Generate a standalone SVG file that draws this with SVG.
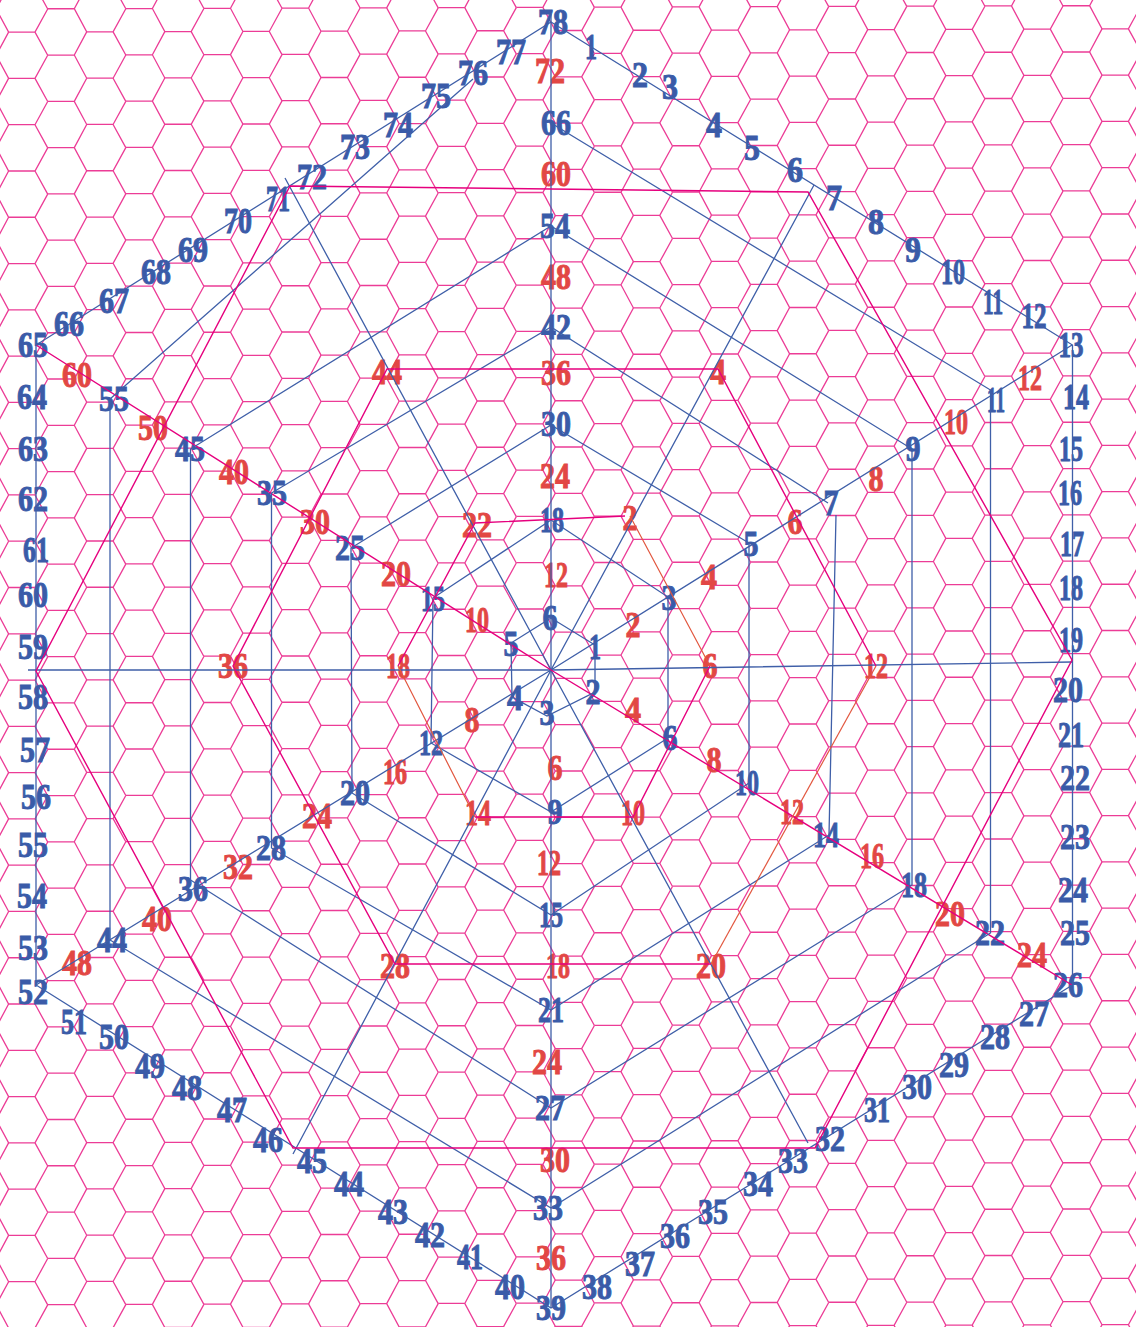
<svg xmlns="http://www.w3.org/2000/svg" width="1136" height="1327" viewBox="0 0 1136 1327">
<style>
.hex{fill:none;stroke:#ec3c96;stroke-width:1.3}
.b{fill:none;stroke:#3f5fa8;stroke-width:1.3}
.m{fill:none;stroke:#e6007e;stroke-width:1.4}
.o{fill:none;stroke:#e2573f;stroke-width:1.2}
text{font-family:"Liberation Serif","Times New Roman",serif;font-weight:700;font-size:36px;text-anchor:middle;stroke-width:1;paint-order:stroke}
.lb text{fill:#3a5ba8;stroke:#3a5ba8}
.lr text{fill:#e24744;stroke:#e24744}
</style>
<defs>
<path id="t" class="hex" d="M0 0H26.6L39 23.14H65.4L78.1 0M26.6 0L39-23.14M65.4 23.14L78.1 46.28"/>
<g id="r">
<use href="#t" x="-30.4" y="0"/><use href="#t" x="47.7" y="-.23"/><use href="#t" x="125.8" y="-.47"/><use href="#t" x="203.9" y="-.7"/><use href="#t" x="282" y="-.94"/><use href="#t" x="360.1" y="-1.17"/><use href="#t" x="438.2" y="-1.4"/><use href="#t" x="516.3" y="-1.64"/><use href="#t" x="594.4" y="-1.87"/><use href="#t" x="672.5" y="-2.1"/><use href="#t" x="750.6" y="-2.34"/><use href="#t" x="828.7" y="-2.57"/><use href="#t" x="906.8" y="-2.8"/><use href="#t" x="984.9" y="-3.04"/><use href="#t" x="1063" y="-3.27"/>
</g>
</defs>
<rect width="1136" height="1327" fill="#fff"/>
<g id="hex-grid">
<use href="#r" y="-37.28"/><use href="#r" y="9"/><use href="#r" y="55.28"/><use href="#r" y="101.56"/><use href="#r" y="147.84"/><use href="#r" y="194.12"/><use href="#r" y="240.4"/><use href="#r" y="286.68"/><use href="#r" y="332.96"/><use href="#r" y="379.24"/><use href="#r" y="425.52"/><use href="#r" y="471.8"/><use href="#r" y="518.08"/><use href="#r" y="564.36"/><use href="#r" y="610.64"/><use href="#r" y="656.92"/><use href="#r" y="703.2"/><use href="#r" y="749.48"/><use href="#r" y="795.76"/><use href="#r" y="842.04"/><use href="#r" y="888.32"/><use href="#r" y="934.6"/><use href="#r" y="980.88"/><use href="#r" y="1027.16"/><use href="#r" y="1073.44"/><use href="#r" y="1119.72"/><use href="#r" y="1166"/><use href="#r" y="1212.28"/><use href="#r" y="1258.56"/><use href="#r" y="1304.84"/><use href="#r" y="1351.12"/>
</g>
<g id="outer-labels" class="lb">
<text x="591" y="59" textLength="12" lengthAdjust="spacingAndGlyphs">1</text><text x="640" y="87" textLength="16" lengthAdjust="spacingAndGlyphs">2</text><text x="670" y="99" textLength="16" lengthAdjust="spacingAndGlyphs">3</text><text x="714" y="137" textLength="16" lengthAdjust="spacingAndGlyphs">4</text><text x="752" y="160" textLength="16" lengthAdjust="spacingAndGlyphs">5</text><text x="795" y="182" textLength="16" lengthAdjust="spacingAndGlyphs">6</text><text x="834" y="210" textLength="16" lengthAdjust="spacingAndGlyphs">7</text><text x="876" y="234" textLength="16" lengthAdjust="spacingAndGlyphs">8</text><text x="913" y="262" textLength="16" lengthAdjust="spacingAndGlyphs">9</text>
<text x="953" y="284" textLength="24" lengthAdjust="spacingAndGlyphs">10</text><text x="993" y="314" textLength="20" lengthAdjust="spacingAndGlyphs">11</text><text x="1034" y="328" textLength="25" lengthAdjust="spacingAndGlyphs">12</text><text x="1071" y="357" textLength="25" lengthAdjust="spacingAndGlyphs">13</text><text x="1076" y="409" textLength="26" lengthAdjust="spacingAndGlyphs">14</text><text x="1071" y="461" textLength="24" lengthAdjust="spacingAndGlyphs">15</text><text x="1070" y="505" textLength="24" lengthAdjust="spacingAndGlyphs">16</text><text x="1072" y="556" textLength="24" lengthAdjust="spacingAndGlyphs">17</text><text x="1071" y="600" textLength="24" lengthAdjust="spacingAndGlyphs">18</text><text x="1071" y="652" textLength="24" lengthAdjust="spacingAndGlyphs">19</text>
<text x="1068" y="702" textLength="30" lengthAdjust="spacingAndGlyphs">20</text><text x="1071" y="747" textLength="26" lengthAdjust="spacingAndGlyphs">21</text><text x="1075" y="790" textLength="30" lengthAdjust="spacingAndGlyphs">22</text><text x="1075" y="849" textLength="30" lengthAdjust="spacingAndGlyphs">23</text><text x="1073" y="902" textLength="30" lengthAdjust="spacingAndGlyphs">24</text><text x="1075" y="945" textLength="30" lengthAdjust="spacingAndGlyphs">25</text><text x="1068" y="997" textLength="30" lengthAdjust="spacingAndGlyphs">26</text><text x="1034" y="1026" textLength="30" lengthAdjust="spacingAndGlyphs">27</text><text x="995" y="1049" textLength="30" lengthAdjust="spacingAndGlyphs">28</text><text x="954" y="1077" textLength="30" lengthAdjust="spacingAndGlyphs">29</text>
<text x="917" y="1099" textLength="30" lengthAdjust="spacingAndGlyphs">30</text><text x="877" y="1122" textLength="26" lengthAdjust="spacingAndGlyphs">31</text><text x="830" y="1151" textLength="30" lengthAdjust="spacingAndGlyphs">32</text><text x="793" y="1173" textLength="30" lengthAdjust="spacingAndGlyphs">33</text><text x="758" y="1196" textLength="30" lengthAdjust="spacingAndGlyphs">34</text><text x="713" y="1224" textLength="30" lengthAdjust="spacingAndGlyphs">35</text><text x="675" y="1248" textLength="30" lengthAdjust="spacingAndGlyphs">36</text><text x="640" y="1276" textLength="30" lengthAdjust="spacingAndGlyphs">37</text><text x="597" y="1299" textLength="30" lengthAdjust="spacingAndGlyphs">38</text><text x="551" y="1320" textLength="30" lengthAdjust="spacingAndGlyphs">39</text>
<text x="510" y="1299" textLength="30" lengthAdjust="spacingAndGlyphs">40</text><text x="470" y="1269" textLength="26" lengthAdjust="spacingAndGlyphs">41</text><text x="430" y="1247" textLength="30" lengthAdjust="spacingAndGlyphs">42</text><text x="393" y="1224" textLength="30" lengthAdjust="spacingAndGlyphs">43</text><text x="349" y="1196" textLength="30" lengthAdjust="spacingAndGlyphs">44</text><text x="312" y="1173" textLength="30" lengthAdjust="spacingAndGlyphs">45</text><text x="268" y="1152" textLength="30" lengthAdjust="spacingAndGlyphs">46</text><text x="232" y="1122" textLength="30" lengthAdjust="spacingAndGlyphs">47</text><text x="187" y="1100" textLength="30" lengthAdjust="spacingAndGlyphs">48</text><text x="150" y="1078" textLength="30" lengthAdjust="spacingAndGlyphs">49</text>
<text x="114" y="1049" textLength="30" lengthAdjust="spacingAndGlyphs">50</text><text x="74" y="1034" textLength="26" lengthAdjust="spacingAndGlyphs">51</text><text x="33" y="1004" textLength="30" lengthAdjust="spacingAndGlyphs">52</text><text x="33" y="960" textLength="30" lengthAdjust="spacingAndGlyphs">53</text><text x="32" y="908" textLength="30" lengthAdjust="spacingAndGlyphs">54</text><text x="33" y="857" textLength="30" lengthAdjust="spacingAndGlyphs">55</text><text x="36" y="809" textLength="30" lengthAdjust="spacingAndGlyphs">56</text><text x="35" y="762" textLength="30" lengthAdjust="spacingAndGlyphs">57</text><text x="33" y="709" textLength="30" lengthAdjust="spacingAndGlyphs">58</text><text x="33" y="659" textLength="30" lengthAdjust="spacingAndGlyphs">59</text>
<text x="33" y="607" textLength="30" lengthAdjust="spacingAndGlyphs">60</text><text x="36" y="562" textLength="26" lengthAdjust="spacingAndGlyphs">61</text><text x="33" y="511" textLength="30" lengthAdjust="spacingAndGlyphs">62</text><text x="33" y="461" textLength="30" lengthAdjust="spacingAndGlyphs">63</text><text x="32" y="409" textLength="30" lengthAdjust="spacingAndGlyphs">64</text><text x="33" y="357" textLength="30" lengthAdjust="spacingAndGlyphs">65</text><text x="69" y="336" textLength="30" lengthAdjust="spacingAndGlyphs">66</text><text x="114" y="313" textLength="30" lengthAdjust="spacingAndGlyphs">67</text><text x="156" y="284" textLength="30" lengthAdjust="spacingAndGlyphs">68</text><text x="193" y="262" textLength="30" lengthAdjust="spacingAndGlyphs">69</text>
<text x="238" y="233" textLength="28" lengthAdjust="spacingAndGlyphs">70</text><text x="278" y="211" textLength="24" lengthAdjust="spacingAndGlyphs">71</text><text x="312" y="189" textLength="30" lengthAdjust="spacingAndGlyphs">72</text><text x="355" y="159" textLength="30" lengthAdjust="spacingAndGlyphs">73</text><text x="398" y="137" textLength="30" lengthAdjust="spacingAndGlyphs">74</text><text x="436" y="108" textLength="30" lengthAdjust="spacingAndGlyphs">75</text><text x="473" y="85" textLength="30" lengthAdjust="spacingAndGlyphs">76</text><text x="511" y="64" textLength="30" lengthAdjust="spacingAndGlyphs">77</text><text x="553" y="34" textLength="30" lengthAdjust="spacingAndGlyphs">78</text>
</g>
<g id="inner-labels" class="lb">
<text x="595" y="659" textLength="12" lengthAdjust="spacingAndGlyphs">1</text><text x="593" y="704" textLength="15" lengthAdjust="spacingAndGlyphs">2</text><text x="547" y="725" textLength="15" lengthAdjust="spacingAndGlyphs">3</text><text x="515" y="710" textLength="16" lengthAdjust="spacingAndGlyphs">4</text><text x="511" y="656" textLength="15" lengthAdjust="spacingAndGlyphs">5</text><text x="550" y="630" textLength="15" lengthAdjust="spacingAndGlyphs">6</text>
<text x="669" y="610" textLength="15" lengthAdjust="spacingAndGlyphs">3</text><text x="670" y="750" textLength="15" lengthAdjust="spacingAndGlyphs">6</text><text x="555" y="824" textLength="15" lengthAdjust="spacingAndGlyphs">9</text><text x="431" y="755" textLength="24" lengthAdjust="spacingAndGlyphs">12</text><text x="433" y="611" textLength="24" lengthAdjust="spacingAndGlyphs">15</text><text x="552" y="532" textLength="24" lengthAdjust="spacingAndGlyphs">18</text>
<text x="751" y="556" textLength="15" lengthAdjust="spacingAndGlyphs">5</text><text x="747" y="795" textLength="24" lengthAdjust="spacingAndGlyphs">10</text><text x="551" y="927" textLength="24" lengthAdjust="spacingAndGlyphs">15</text><text x="355" y="805" textLength="30" lengthAdjust="spacingAndGlyphs">20</text><text x="350" y="560" textLength="30" lengthAdjust="spacingAndGlyphs">25</text><text x="556" y="436" textLength="30" lengthAdjust="spacingAndGlyphs">30</text>
<text x="831" y="515" textLength="15" lengthAdjust="spacingAndGlyphs">7</text><text x="826" y="847" textLength="26" lengthAdjust="spacingAndGlyphs">14</text><text x="551" y="1022" textLength="26" lengthAdjust="spacingAndGlyphs">21</text><text x="271" y="860" textLength="30" lengthAdjust="spacingAndGlyphs">28</text><text x="272" y="505" textLength="30" lengthAdjust="spacingAndGlyphs">35</text><text x="556" y="339" textLength="30" lengthAdjust="spacingAndGlyphs">42</text>
<text x="913" y="461" textLength="15" lengthAdjust="spacingAndGlyphs">9</text><text x="914" y="897" textLength="26" lengthAdjust="spacingAndGlyphs">18</text><text x="550" y="1120" textLength="30" lengthAdjust="spacingAndGlyphs">27</text><text x="193" y="901" textLength="30" lengthAdjust="spacingAndGlyphs">36</text><text x="190" y="461" textLength="30" lengthAdjust="spacingAndGlyphs">45</text><text x="555" y="238" textLength="30" lengthAdjust="spacingAndGlyphs">54</text>
<text x="996" y="412" textLength="18" lengthAdjust="spacingAndGlyphs">11</text><text x="990" y="945" textLength="30" lengthAdjust="spacingAndGlyphs">22</text><text x="548" y="1220" textLength="30" lengthAdjust="spacingAndGlyphs">33</text><text x="112" y="952" textLength="30" lengthAdjust="spacingAndGlyphs">44</text><text x="114" y="411" textLength="30" lengthAdjust="spacingAndGlyphs">55</text><text x="556" y="135" textLength="30" lengthAdjust="spacingAndGlyphs">66</text>
</g>
<g id="red-labels" class="lr">
<text x="556" y="587" textLength="24" lengthAdjust="spacingAndGlyphs">12</text><text x="555" y="488" textLength="30" lengthAdjust="spacingAndGlyphs">24</text><text x="556" y="385" textLength="30" lengthAdjust="spacingAndGlyphs">36</text><text x="556" y="289" textLength="30" lengthAdjust="spacingAndGlyphs">48</text><text x="556" y="186" textLength="30" lengthAdjust="spacingAndGlyphs">60</text><text x="550" y="83" textLength="30" lengthAdjust="spacingAndGlyphs">72</text>
<text x="555" y="780" textLength="15" lengthAdjust="spacingAndGlyphs">6</text><text x="549" y="875" textLength="24" lengthAdjust="spacingAndGlyphs">12</text><text x="558" y="978" textLength="24" lengthAdjust="spacingAndGlyphs">18</text><text x="547" y="1074" textLength="30" lengthAdjust="spacingAndGlyphs">24</text><text x="555" y="1172" textLength="30" lengthAdjust="spacingAndGlyphs">30</text><text x="551" y="1270" textLength="30" lengthAdjust="spacingAndGlyphs">36</text>
<text x="633" y="637" textLength="15" lengthAdjust="spacingAndGlyphs">2</text><text x="709" y="589" textLength="16" lengthAdjust="spacingAndGlyphs">4</text><text x="795" y="534" textLength="15" lengthAdjust="spacingAndGlyphs">6</text><text x="876" y="491" textLength="15" lengthAdjust="spacingAndGlyphs">8</text><text x="956" y="434" textLength="24" lengthAdjust="spacingAndGlyphs">10</text><text x="1030" y="390" textLength="24" lengthAdjust="spacingAndGlyphs">12</text>
<text x="633" y="722" textLength="16" lengthAdjust="spacingAndGlyphs">4</text><text x="714" y="772" textLength="15" lengthAdjust="spacingAndGlyphs">8</text><text x="792" y="824" textLength="24" lengthAdjust="spacingAndGlyphs">12</text><text x="872" y="868" textLength="24" lengthAdjust="spacingAndGlyphs">16</text><text x="950" y="926" textLength="30" lengthAdjust="spacingAndGlyphs">20</text><text x="1032" y="967" textLength="30" lengthAdjust="spacingAndGlyphs">24</text>
<text x="472" y="732" textLength="15" lengthAdjust="spacingAndGlyphs">8</text><text x="395" y="784" textLength="24" lengthAdjust="spacingAndGlyphs">16</text><text x="317" y="828" textLength="30" lengthAdjust="spacingAndGlyphs">24</text><text x="238" y="879" textLength="30" lengthAdjust="spacingAndGlyphs">32</text><text x="157" y="931" textLength="30" lengthAdjust="spacingAndGlyphs">40</text><text x="77" y="975" textLength="30" lengthAdjust="spacingAndGlyphs">48</text>
<text x="477" y="632" textLength="24" lengthAdjust="spacingAndGlyphs">10</text><text x="396" y="586" textLength="30" lengthAdjust="spacingAndGlyphs">20</text><text x="315" y="534" textLength="30" lengthAdjust="spacingAndGlyphs">30</text><text x="234" y="484" textLength="30" lengthAdjust="spacingAndGlyphs">40</text><text x="153" y="440" textLength="30" lengthAdjust="spacingAndGlyphs">50</text><text x="77" y="387" textLength="30" lengthAdjust="spacingAndGlyphs">60</text>
<text x="398" y="678" textLength="24" lengthAdjust="spacingAndGlyphs">18</text><text x="233" y="678" textLength="30" lengthAdjust="spacingAndGlyphs">36</text><text x="710" y="678" textLength="15" lengthAdjust="spacingAndGlyphs">6</text><text x="876" y="678" textLength="24" lengthAdjust="spacingAndGlyphs">12</text><text x="630" y="530" textLength="15" lengthAdjust="spacingAndGlyphs">2</text><text x="718" y="384" textLength="16" lengthAdjust="spacingAndGlyphs">4</text><text x="477" y="537" textLength="30" lengthAdjust="spacingAndGlyphs">22</text><text x="387" y="384" textLength="30" lengthAdjust="spacingAndGlyphs">44</text><text x="478" y="825" textLength="26" lengthAdjust="spacingAndGlyphs">14</text><text x="633" y="825" textLength="24" lengthAdjust="spacingAndGlyphs">10</text><text x="395" y="978" textLength="30" lengthAdjust="spacingAndGlyphs">28</text><text x="711" y="978" textLength="30" lengthAdjust="spacingAndGlyphs">20</text>
</g>
<g id="connectors">
<path class="b" d="M551 14V1308M28 670H551L1072 662"/>
<path class="b" d="M285 178L551 670L808 1143M814 185L551 670L293 1154M551 670L1072 345M551 670L36 985"/>
<path class="m" d="M36 345L551 670L1072 985"/>
<path class="b" d="M551 618L595 645V692L547 716L512 697L511 643Z"/>
<path class="b" d="M551 520L668 597V738L551 812L431 743L433 598Z"/>
<path class="b" d="M551 425L749 543V783L551 915L352 793L351 548Z"/>
<path class="b" d="M836 515L829 835L551 1010L271.500 848V493L551 327L828 503"/>
<path class="b" d="M551 226L912 449V885L551 1108L190.500 880V449Z"/>
<path class="b" d="M551 123L990.500 390V933L551 1208L110 940V399L473 79"/>
<path class="b" d="M551 22L1072.500 345V985L551 1308L36 985V345Z"/>
<path class="m" d="M625 516L475 523L398 666M710 666L633 817H475"/>
<path class="o" d="M630 516L710 666M475 817L398 666"/>
<path class="m" d="M876 666L718 369H387L233 666L395 964H711"/>
<path class="o" d="M876 666L711 964"/>
<path class="m" d="M290 186L808 192L1072 660L815 1148H293L36 671Z"/>
</g>
</svg>
